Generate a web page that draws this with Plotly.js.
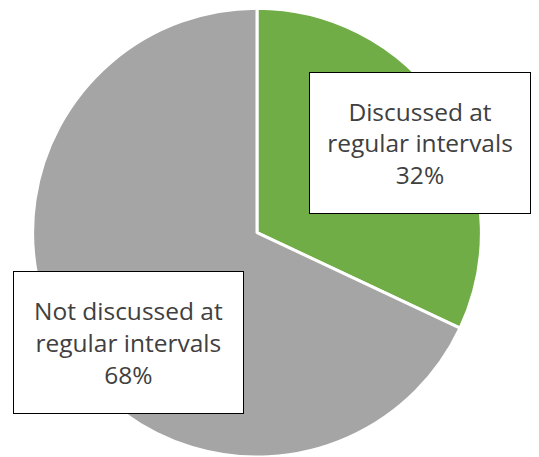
<!DOCTYPE html>
<html>
<head>
<meta charset="utf-8">
<script src="https://cdn.plot.ly/plotly-3.0.1.min.js"></script>
<style>html,body{margin:0;padding:0;background:#fff;}#chart{width:539px;height:457px;}</style>
</head>
<body>
<div id="chart"></div>
<script>
const categories = ["Discussed at regular intervals", "Not discussed at regular intervals"];
const values = [32, 68];
const labelTexts = ["Discussed at<br>regular intervals<br>32%", "Not discussed at<br>regular intervals<br>68%"];
const colors = ["#70AD47", "#A5A5A5"];

const data = [{
  type: "pie",
  labels: categories,
  values: values,
  sort: false,
  direction: "clockwise",
  rotation: 0,
  textinfo: "none",
  hoverinfo: "none",
  marker: {colors: colors, line: {color: "#ffffff", width: 3}},
  domain: {x: [0.0594, 0.8942], y: [0, 0.982]},
  showlegend: false
}];

const font = {family: "'Open Sans', sans-serif", size: 24.5, color: "#404040"};
const layout = {
  width: 539, height: 457,
  margin: {l: 0, r: 0, t: 0, b: 0},
  paper_bgcolor: "#ffffff",
  showlegend: false,
  annotations: [
    {xref: "paper", yref: "paper", x: 420/539, y: 1 - 143/457, xanchor: "center", yanchor: "middle",
     text: labelTexts[0], showarrow: false, font: font, bgcolor: "#ffffff", bordercolor: "#000000",
     borderwidth: 1, borderpad: 0, width: 220, height: 140, align: "center"},
    {xref: "paper", yref: "paper", x: 128.5/539, y: 1 - 342.5/457, xanchor: "center", yanchor: "middle",
     text: labelTexts[1], showarrow: false, font: font, bgcolor: "#ffffff", bordercolor: "#000000",
     borderwidth: 1, borderpad: 0, width: 229, height: 141, align: "center"}
  ]
};
Plotly.newPlot("chart", data, layout, {staticPlot: true});
</script>
</body>
</html>
